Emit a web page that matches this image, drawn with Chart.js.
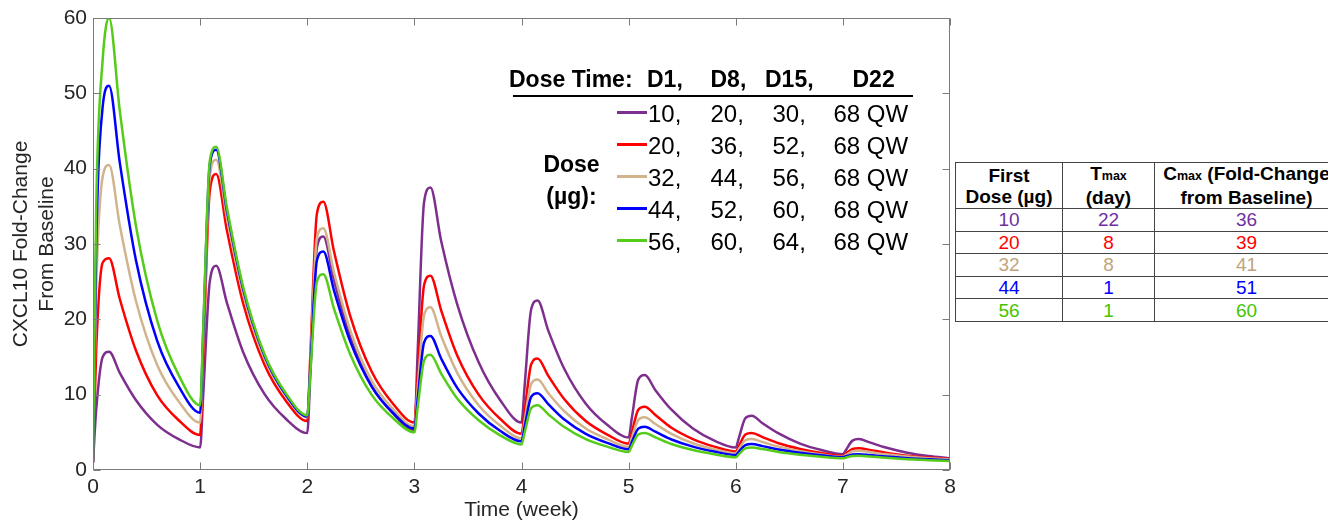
<!DOCTYPE html>
<html><head><meta charset="utf-8">
<script src="https://cdn.jsdelivr.net/npm/chart.js@4.4.1/dist/chart.umd.min.js"></script>
<style>
html,body{margin:0;padding:0;background:#fff;overflow:hidden;width:1328px;height:523px;}
body{position:relative;font-family:"Liberation Sans",Arial,sans-serif;color:#000;}
#c{position:absolute;left:0;top:0;}
.t{position:absolute;white-space:nowrap;}
#tbl{position:absolute;left:955px;top:162px;width:383px;border-collapse:collapse;table-layout:fixed;font-family:"Liberation Sans",Arial,sans-serif;}
#tbl td,#tbl th{border:1px solid #444;padding:0;text-align:center;white-space:nowrap;overflow:visible;}
#tbl th{font-weight:bold;font-size:19px;line-height:21px;height:44px;color:#000;}
#tbl td{font-size:19px;line-height:21px;height:21.6px;}
#tbl sub{font-size:12.5px;font-weight:bold;vertical-align:baseline;}
</style></head><body>
<canvas id="c" width="955" height="523"></canvas>
<div id="legend"></div>
<table id="tbl"></table>
<script>
// Time points (week)
const times = [
  0,0.03,0.09,0.15,0.25,0.4,0.6,0.8,
  1,1.03,1.09,1.15,1.25,1.4,1.6,1.8,
  2,2.03,2.09,2.15,2.25,2.4,2.6,2.8,
  3,3.03,3.09,3.15,3.25,3.4,3.6,3.8,
  4,4.03,4.09,4.15,4.25,4.4,4.6,4.8,
  5,5.03,5.09,5.15,5.25,5.4,5.6,5.8,
  6,6.03,6.09,6.15,6.25,6.4,6.6,6.8,
  7,7.03,7.09,7.15,7.25,7.4,7.6,7.8,
  8
];
// CXCL10 fold-change from baseline, per first dose
const dose10 = [
  1.0,8,15.0,15.7,12.9,9.3,6.0,4.1,
  3.0,10.3,25,27.1,22.2,15.7,10.1,6.8,
  4.9,13.1,29.5,31.0,25.2,17.7,11.2,7.5,
  5.3,15.4,35.5,37.5,30.4,22.0,14.3,9.3,
  6.3,11.3,21.3,22.5,18.5,13.4,8.8,6.0,
  4.3,6.9,12.0,12.6,10.6,8.0,5.5,3.9,
  3.0,4.3,6.9,7.2,6.2,4.85,3.5,2.65,
  2.1,2.7,3.9,4.1,3.66,2.98,2.3,1.85,
  1.55
];
const dose20 = [
  1.0,16,27.5,28.1,22.7,15.9,9.9,6.6,
  4.65,15.4,37,39.3,31.8,22.2,14.0,9.2,
  6.5,15.7,34,35.6,29.0,20.5,13.1,8.8,
  6.3,12.4,24.5,25.8,21.2,15.2,10.0,6.8,
  4.8,7.9,14.0,14.8,12.5,9.4,6.5,4.7,
  3.5,5.0,8.0,8.4,7.3,5.6,4.1,3.1,
  2.45,3.2,4.7,4.9,4.37,3.55,2.8,2.25,
  1.85,2.2,2.8,2.9,2.67,2.3,1.9,1.65,
  1.45
];
const dose32 = [
  1.0,24,38.9,40.5,32.5,22.5,13.9,9.1,
  6.3,17.2,39,41.2,33.5,23.5,14.8,9.9,
  7.0,14.9,30.8,32.1,26.2,18.6,11.9,8.1,
  5.8,10.7,20.5,21.6,17.8,12.9,8.6,5.9,
  4.2,6.6,11.4,12.0,10.2,7.8,5.5,4.1,
  3.1,4.3,6.65,7.0,6.1,4.8,3.55,2.75,
  2.2,2.8,3.95,4.1,3.71,3.1,2.5,2.05,
  1.75,2.0,2.47,2.55,2.38,2.08,1.78,1.55,
  1.4
];
const dose44 = [
  1.0,30,48.2,51,40.8,27.9,17.1,11.1,
  7.6,18.6,40.5,42.5,34.4,24.1,15.2,10.0,
  7.1,14.0,27.8,29.0,23.8,17.1,11.1,7.6,
  5.5,9.3,16.9,17.8,14.8,10.9,7.5,5.2,
  3.8,5.8,9.7,10.2,8.74,6.7,4.8,3.6,
  2.75,3.7,5.5,5.75,5.08,4.05,3.1,2.45,
  2.0,2.45,3.3,3.45,3.17,2.72,2.28,1.95,
  1.7,1.82,2.05,2.1,1.98,1.78,1.57,1.42,
  1.3
];
const dose56 = [
  1.1,35,54.4,60,47.7,32.5,19.8,12.6,
  8.6,19.4,41,42.9,34.8,24.4,15.4,10.2,
  7.25,13.2,25,26.0,21.4,15.4,10.0,6.9,
  5.0,8.2,14.5,15.3,12.8,9.5,6.6,4.6,
  3.4,5.0,8.2,8.6,7.4,5.7,4.1,3.1,
  2.4,3.2,4.7,4.9,4.33,3.45,2.65,2.1,
  1.7,2.1,2.88,3.0,2.78,2.4,2.03,1.75,
  1.55,1.65,1.85,1.9,1.8,1.62,1.44,1.31,
  1.2
];
// Legend: dosing schedule
const doseTimeHeader = ['D1,','D8,','D15,','D22'];
const scheduleD1 = ['10,','20,','32,','44,','56,'];
const scheduleD8 = ['20,','36,','44,','52,','60,'];
const scheduleD15 = ['30,','52,','56,','60,','64,'];
const scheduleD22 = ['68 QW','68 QW','68 QW','68 QW','68 QW'];
// Table
const firstDose = ['10','20','32','44','56'];
const tmaxDay = ['22','8','8','1','1'];
const cmaxFold = ['36','39','41','51','60'];

const seriesNames = ['10 µg','20 µg','32 µg','44 µg','56 µg'];
const seriesValues = [dose10, dose20, dose32, dose44, dose56];
const colors = ['#7E2F8E','#FF0000','#D2B48C','#0000FF','#55CC1A'];
const textColors = ['#7030A0','#FF0000','#C0A47C','#0000FF','#44C400'];

const FONT = '"Liberation Sans", Arial, sans-serif';
const AX = '#262626';

const boxPlugin = {
  id: 'boxPlugin',
  afterDatasetsDraw(chart) {
    const {ctx, chartArea: a, scales: {x, y}} = chart;
    ctx.save();
    ctx.strokeStyle = '#7a7a7a';
    ctx.lineWidth = 1;
    const L = Math.round(a.left) + 0.5, R = Math.round(a.right) - 0.5;
    const T = Math.round(a.top) + 0.5, B = Math.round(a.bottom) - 0.5;
    ctx.strokeRect(L, T, R - L, B - T);
    ctx.beginPath();
    x.ticks.forEach(tk => {
      const px = Math.round(x.getPixelForValue(tk.value)) + 0.5;
      ctx.moveTo(px, B); ctx.lineTo(px, B - 7);
      ctx.moveTo(px, T); ctx.lineTo(px, T + 7);
    });
    y.ticks.forEach(tk => {
      const py = Math.round(y.getPixelForValue(tk.value)) + 0.5;
      ctx.moveTo(L, py); ctx.lineTo(L + 7, py);
      ctx.moveTo(R, py); ctx.lineTo(R - 7, py);
    });
    ctx.stroke();
    ctx.restore();
  }
};

new Chart(document.getElementById('c'), {
  type: 'line',
  data: {
    datasets: seriesValues.map((vals, i) => ({
      label: seriesNames[i],
      data: times.map((t, j) => ({x: t, y: vals[j]})),
      borderColor: colors[i],
      backgroundColor: colors[i],
      borderWidth: 2.5,
      pointRadius: 0,
      fill: false,
      cubicInterpolationMode: 'monotone',
      order: 4 - i
    }))
  },
  options: {
    responsive: false,
    animation: false,
    events: [],
    layout: {padding: {top: 18, right: 5, left: 0, bottom: 0}},
    plugins: {legend: {display: false}, tooltip: {enabled: false}},
    scales: {
      x: {
        type: 'linear', min: 0, max: 8,
        ticks: {stepSize: 1, color: AX, font: {family: FONT, size: 21}, padding: 5, maxRotation: 0},
        grid: {display: false, drawTicks: false},
        border: {display: false},
        title: {display: true, text: 'Time (week)', color: AX, font: {family: FONT, size: 21}, padding: {top: 0, bottom: 0}},
        afterFit: s => { s.height = 53; s.paddingLeft = 0; s.paddingRight = 0; }
      },
      y: {
        type: 'linear', min: 0, max: 60,
        ticks: {stepSize: 10, color: AX, font: {family: FONT, size: 21}, padding: 6},
        grid: {display: false, drawTicks: false},
        border: {display: false},
        title: {display: true, text: ['CXCL10 Fold-Change', 'From Baseline'], color: AX, font: {family: FONT, size: 21}, padding: {top: 9, bottom: 0}},
        afterFit: s => { s.width = 93; s.paddingTop = 0; s.paddingBottom = 0; }
      }
    }
  },
  plugins: [boxPlugin]
});

// Legend (HTML overlay)
const leg = document.getElementById('legend');
function addText(txt, left, cy, size, bold, align) {
  const d = document.createElement('div');
  d.className = 't';
  d.textContent = txt;
  d.style.fontSize = size + 'px';
  d.style.lineHeight = '30px';
  d.style.top = (cy - 15) + 'px';
  d.style.fontWeight = bold ? 'bold' : 'normal';
  if (align === 'center') { d.style.left = (left - 60) + 'px'; d.style.width = '120px'; d.style.textAlign = 'center'; }
  else d.style.left = left + 'px';
  leg.appendChild(d);
}
addText('Dose Time:', 509, 79, 23, true);
const hdrX = [647, 710.5, 765, 852.5];
doseTimeHeader.forEach((h, i) => addText(h, hdrX[i], 79, 23, true));
const rule = document.createElement('div');
rule.style.cssText = 'position:absolute;left:513px;top:94.5px;width:400px;height:2px;background:#000;';
leg.appendChild(rule);
const colX = [648, 710.5, 772.5, 833.5];
const cols = [scheduleD1, scheduleD8, scheduleD15, scheduleD22];
for (let r = 0; r < 5; r++) {
  const cy = 113.5 + 32.1 * r;
  const ln = document.createElement('div');
  ln.style.cssText = `position:absolute;left:617px;top:${cy - 3}px;width:30px;height:3px;background:${colors[r]};`;
  leg.appendChild(ln);
  cols.forEach((c, k) => addText(c[r], colX[k], cy, 24, false));
}
addText('Dose', 571.5, 164, 23, true, 'center');
addText('(µg):', 571.5, 196, 23, true, 'center');

// Table
const tbl = document.getElementById('tbl');
const colW = [107, 92, 184];
let html = '<colgroup>' + colW.map(w => `<col style="width:${w}px">`).join('') + '</colgroup>';
html += '<tr><th>First<br>Dose (µg)</th><th>T<sub>max</sub><br>(day)</th><th>C<sub>max</sub> (Fold-Change<br>from Baseline)</th></tr>';
for (let r = 0; r < firstDose.length; r++) {
  const c = textColors[r];
  html += `<tr><td style="color:${c}">${firstDose[r]}</td><td style="color:${c}">${tmaxDay[r]}</td><td style="color:${c}">${cmaxFold[r]}</td></tr>`;
}
tbl.innerHTML = html;
</script>
</body></html>
